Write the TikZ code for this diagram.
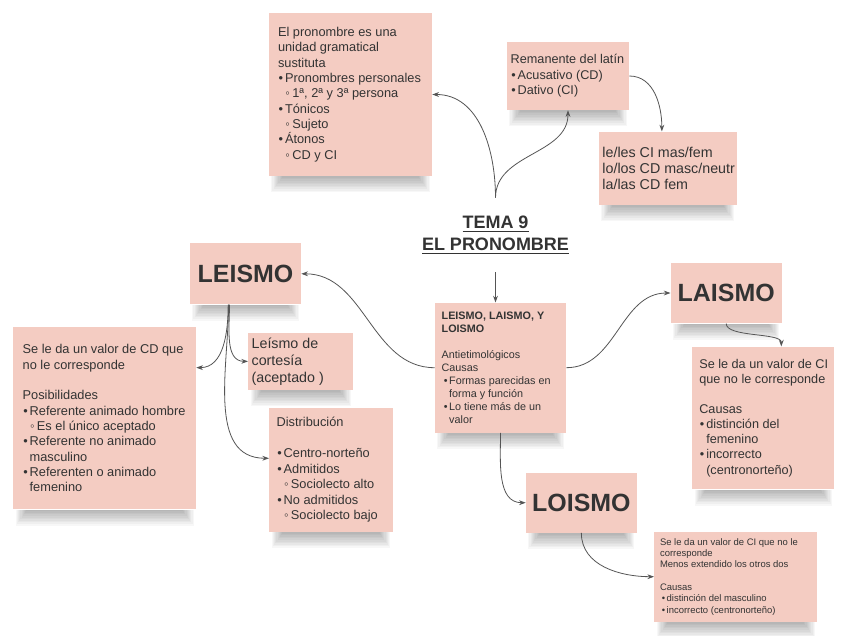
\documentclass[tikz,border=0pt]{standalone}
\usepackage{fontspec}
\setmainfont{Liberation Sans}
\usetikzlibrary{arrows.meta,fit,backgrounds}
\definecolor{cardc}{HTML}{F4CCC2}
\definecolor{txtc}{HTML}{333333}
\definecolor{linec}{HTML}{555555}
\newcommand\itm[1][0.55em]{\makebox[#1][l]{\hspace*{\dimexpr#1-0.5em\relax}•}}
\newcommand\sitm{\makebox[1.12em][l]{\hspace*{0.58em}◦}}
\newcommand\contl[1][0.55em]{\hspace*{#1}}
\newcommand\shadowunder[1]{\foreach \i in {1,...,10}{\fill[black, opacity=0.03]
  ([xshift={(1+0.9*\i)*1pt}]#1.south west) rectangle ([xshift={-(1+0.9*\i)*1pt}, yshift={-1.2*(11-\i)*1pt}]#1.south east);}}
\begin{document}
\begin{tikzpicture}[x=0.75pt,y=-0.75pt,
  card/.style={fill=cardc, draw=none, inner sep=0pt},
  txt/.style={text=txtc, anchor=west, inner sep=0pt, align=left},
  big/.style={text=txtc, inner sep=0pt, font=\bfseries\fontsize{18.7}{20}\selectfont},
  conn/.style={draw=linec, line width=0.6pt, -{Stealth[length=5pt,width=3.6pt]}}]
\useasboundingbox (0,0) rectangle (848,635);

% boxes
\node[card, fit={(269,13) (432,176)}] (pron) {};
\node[txt, font=\fontsize{9.6}{11.5}\selectfont] (pron-t) at ([xshift=6.75pt]pron.west)
 {El pronombre es una\\unidad gramatical\\sustituta\\\itm Pronombres personales\\\sitm 1ª, 2ª y 3ª persona\\\itm Tónicos\\\sitm Sujeto\\\itm Átonos\\\sitm CD y CI};

\node[card, fit={(507,42) (629,110)}] (rem) {};
\node[txt, font=\fontsize{9.5}{11.6}\selectfont] (rem-t) at ([xshift=2.8pt]rem.west)
 {Remanente del latín\\\itm Acusativo (CD)\\\itm Dativo (CI)};

\node[card, fit={(599,131.7) (736.7,205)}] (lele) {};
\node[txt, font=\fontsize{10.7}{12}\selectfont] (lele-t) at ([xshift=2.6pt]lele.west)
 {le/les CI mas/fem\\lo/los CD masc/neutr\\la/las CD fem};

\node[text=txtc, font=\bfseries\fontsize{13.5}{16.3}\selectfont, align=center, minimum height=55.5pt, inner sep=0pt] (title) at (495.5,235)
 {\underline{TEMA 9}\\\underline{EL PRONOMBRE}};

\node[card, fit={(190,243.3) (301,304.3)}] (leis) {};
\node[big] (leis-t) at (leis.center) {LEISMO};

\node[card, fit={(670.7,262.7) (781.7,323.3)}] (lais) {};
\node[big] (lais-t) at (lais.center) {LAISMO};

\node[card, fit={(526,472.7) (636.7,532.7)}] (lois) {};
\node[big] (lois-t) at (lois.center) {LOISMO};

\node[card, fit={(435,302.7) (566,432.7)}] (ctr) {};
\node[txt, font=\fontsize{8.1}{9.7}\selectfont] (ctr-t) at ([xshift=5pt]ctr.west)
 {\textbf{LEISMO, LAISMO, Y}\\\textbf{LOISMO}\\[9.7pt]Antietimológicos\\Causas\\\itm[0.7em]Formas parecidas en\\\contl[0.7em]forma y función\\\itm[0.7em]Lo tiene más de un\\\contl[0.7em]valor};

\node[card, fit={(692.3,346.7) (834.3,489.3)}] (laisd) {};
\node[txt, font=\fontsize{9.5}{11.3}\selectfont] (laisd-t) at ([xshift=5.25pt]laisd.west)
 {Se le da un valor de CI\\que no le corresponde\\[11.3pt]Causas\\\itm distinción del\\\contl femenino\\\itm incorrecto\\\contl (centronorteño)};

\node[card, fit={(654.3,531.7) (817.3,621.7)}] (loisd) {};
\node[txt, font=\fontsize{7.1}{8.5}\selectfont] (loisd-t) at ([xshift=4.3pt]loisd.west)
 {Se le da un valor de CI que no le\\corresponde\\Menos extendido los otros dos\\[8.5pt]Causas\\\itm[0.7em]distinción del masculino\\\itm[0.7em]incorrecto (centronorteño)};

\node[card, fit={(13.3,327.3) (196,509.3)}] (leftb) {};
\node[txt, font=\fontsize{9.6}{11.5}\selectfont] (leftb-t) at ([xshift=7pt]leftb.west)
 {Se le da un valor de CD que\\no le corresponde\\[11.5pt]Posibilidades\\\itm Referente animado hombre\\\sitm Es el único aceptado\\\itm Referente no animado\\\contl masculino\\\itm Referenten o animado\\\contl femenino};

\node[card, fit={(248.3,332.7) (353.3,390)}] (cort) {};
\node[txt, font=\fontsize{10.7}{12.8}\selectfont] (cort-t) at ([xshift=2.5pt]cort.west)
 {Leísmo de\\cortesía\\(aceptado )};

\node[card, fit={(269.3,408.3) (392.7,531.7)}] (dist) {};
\node[txt, font=\fontsize{9.6}{11.6}\selectfont] (dist-t) at ([xshift=5.5pt]dist.west)
 {Distribución\\[11.6pt]\itm Centro-norteño\\\itm Admitidos\\\sitm Sociolecto alto\\\itm No admitidos\\\sitm Sociolecto bajo};

% shadows and background
\begin{scope}[on background layer]
\fill[white] (0,0) rectangle (848,635);
\foreach \n in {pron,rem,lele,leis,lais,lois,ctr,laisd,loisd,leftb,cort,dist}{\shadowunder{\n}}
\end{scope}

% connectors
\draw[conn] (title.north) to[out=90,in=0] (pron.east);
\draw[conn] (title.north) to[out=90,in=-90] (rem.south);
\draw[conn] (rem.east) to[out=0,in=90] ([xshift=-4.5pt]lele.north);
\draw[conn] (title.south) -- (title.south |- ctr.north);
\draw[conn] (ctr.west) to[out=180,in=0] (leis.east);
\draw[conn] (ctr.east) to[out=0,in=180] (lais.west);
\draw[conn] (ctr.south) to[out=-90,in=180] (lois.west);
\draw[conn] (lais.south) to[out=-90,in=90,looseness=0.6] ([xshift=13.5pt]laisd.north);
\draw[conn] (lois.south) to[out=-90,in=180] (loisd.west);
\draw[conn] ([xshift=-13pt]leis.south) to[out=-90,in=0] ([yshift=38pt]leftb.east);
\draw[conn] ([xshift=-12pt]leis.south) to[out=-90,in=180] (cort.west);
\draw[conn] ([xshift=-12.7pt]leis.south) to[out=-90,in=180] ([yshift=8.8pt]dist.west);
\end{tikzpicture}
\end{document}
